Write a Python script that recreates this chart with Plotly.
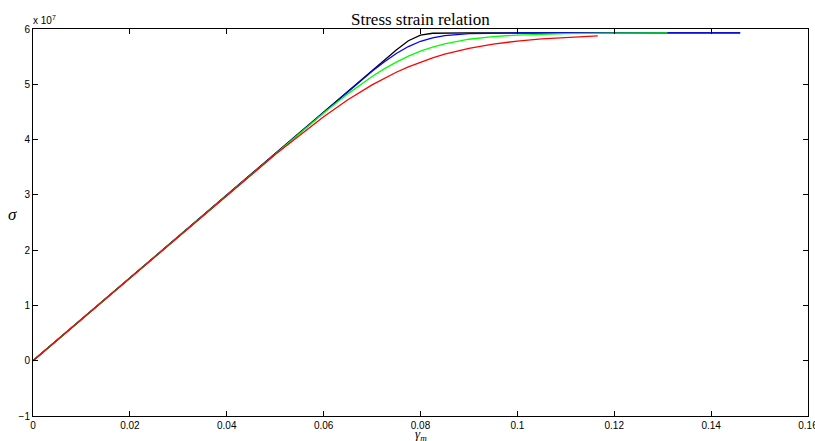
import plotly.graph_objects as go

# strain values and stress values (stress in units of 1e7)
strain_black = [0, 0.05, 0.06, 0.065, 0.07, 0.0725, 0.075, 0.0775, 0.08, 0.0825, 0.085, 0.09, 0.1, 0.12, 0.14, 0.146]
stress_black = [0, 3.75, 4.5, 4.875, 5.25, 5.435, 5.621, 5.787, 5.89, 5.923, 5.929, 5.93, 5.93, 5.93, 5.93, 5.93]

strain_blue = [0, 0.05, 0.06, 0.065, 0.07, 0.0725, 0.075, 0.0775, 0.08, 0.0825, 0.085, 0.09, 0.095, 0.1, 0.12, 0.14, 0.146]
stress_blue = [0, 3.75, 4.4995, 4.872, 5.234, 5.403, 5.556, 5.683, 5.778, 5.841, 5.880, 5.915, 5.925, 5.928, 5.93, 5.93, 5.93]

strain_green = [0, 0.05, 0.06, 0.065, 0.07, 0.0725, 0.075, 0.0775, 0.08, 0.0825, 0.085, 0.09, 0.095, 0.1, 0.105, 0.11, 0.12, 0.131]
stress_green = [0, 3.748, 4.481, 4.827, 5.140, 5.279, 5.402, 5.509, 5.599, 5.673, 5.733, 5.815, 5.863, 5.891, 5.907, 5.916, 5.925, 5.929]

strain_red = [0, 0.04, 0.05, 0.06, 0.065, 0.07, 0.0725, 0.075, 0.0775, 0.08, 0.0825, 0.085, 0.09, 0.095, 0.1, 0.105, 0.11, 0.1166]
stress_red = [0, 2.996, 3.729, 4.414, 4.720, 4.990, 5.110, 5.218, 5.315, 5.402, 5.478, 5.544, 5.650, 5.727, 5.782, 5.822, 5.850, 5.876]

x_ticks = [0, 0.02, 0.04, 0.06, 0.08, 0.1, 0.12, 0.14, 0.16]
x_tick_text = ["0", "0.02", "0.04", "0.06", "0.08", "0.1", "0.12", "0.14", "0.16"]
y_ticks = [-1, 0, 1, 2, 3, 4, 5, 6]
y_tick_text = ["\u22121", "0", "1", "2", "3", "4", "5", "6"]

fig = go.Figure()
for xs, ys, col in [(strain_black, stress_black, "#000000"),
                    (strain_blue, stress_blue, "#0000ff"),
                    (strain_green, stress_green, "#00ff00"),
                    (strain_red, stress_red, "#ff0000")]:
    fig.add_trace(go.Scatter(x=xs, y=ys, mode="lines", line=dict(color=col, width=1.3),
                             showlegend=False, hoverinfo="skip"))

axis_common = dict(showline=True, linecolor="black", linewidth=1, mirror="ticks",
                   ticks="inside", ticklen=5, tickwidth=1, tickcolor="black",
                   showgrid=False, zeroline=False, ticklabeloverflow="allow",
                   automargin=False,
                   tickfont=dict(family="Liberation Sans, Arial", size=10, color="black"))

fig.update_layout(
    width=815, height=441,
    margin=dict(l=33, r=7, t=29, b=25, autoexpand=False),
    paper_bgcolor="white", plot_bgcolor="white",
    xaxis=dict(range=[0, 0.16], tickvals=x_ticks, ticktext=x_tick_text, **axis_common),
    yaxis=dict(range=[-1, 6], tickvals=y_ticks, ticktext=y_tick_text, **axis_common),
    annotations=[
        dict(text="Stress strain relation", x=0.5, y=1, xref="paper", yref="paper",
             xanchor="center", yanchor="bottom", yshift=-2, showarrow=False,
             font=dict(family="Liberation Serif, DejaVu Serif", size=17, color="black")),
        dict(text="x 10<sup>7</sup>", x=0, y=1, xref="paper", yref="paper",
             xanchor="left", yanchor="bottom", xshift=-2, yshift=1, showarrow=False,
             font=dict(family="Liberation Sans, Arial", size=10, color="black")),
        dict(text="<i>γ</i><sub><i>m</i></sub>", x=0.5, y=0, xref="paper", yref="paper",
             xanchor="center", yanchor="middle", yshift=-18, showarrow=False,
             font=dict(family="Liberation Serif, DejaVu Serif", size=13, color="black")),
        dict(text="<i>σ</i>", x=0, y=0.5, xref="paper", yref="paper",
             xanchor="right", yanchor="middle", xshift=-14, yshift=8, showarrow=False,
             font=dict(family="Liberation Serif, DejaVu Serif", size=17, color="black")),
    ],
)

fig.write_html("out.html")
